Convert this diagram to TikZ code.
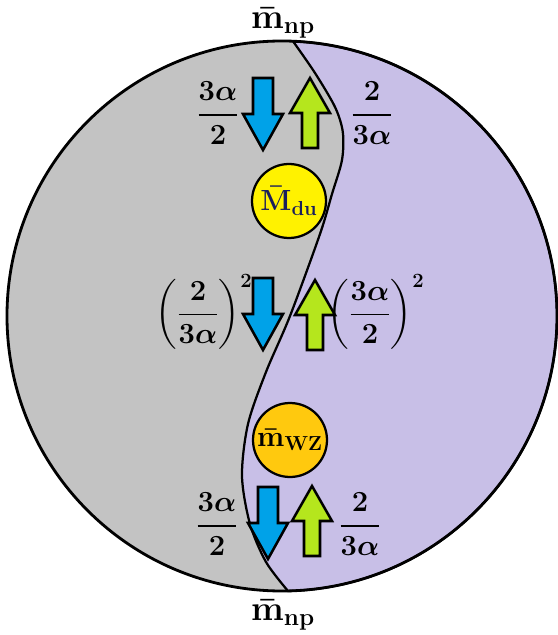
\documentclass[tikz,border=0pt]{standalone}
\usepackage{amsmath}
\definecolor{paintgray}{HTML}{C3C3C3}
\definecolor{lavender}{HTML}{C8BFE7}
\definecolor{spinblue}{HTML}{00A2E8}
\definecolor{spingreen}{HTML}{B5E61D}
\definecolor{duyellow}{HTML}{FFF200}
\definecolor{wzorange}{HTML}{FFC90E}
\definecolor{navytext}{HTML}{1A1F5C}

\begin{document}
\begin{tikzpicture}[line join=miter,
  lbl/.style={font=\fontsize{22}{26}\selectfont\boldmath,inner sep=1pt},
  bubble/.style={circle,draw,line width=1.6pt,minimum size=1.85cm,inner sep=0pt,
    font=\fontsize{21}{24}\selectfont\boldmath},
  outline/.style={line width=1.8pt},
  dnarrow/.pic={\draw[outline,fill=spinblue] (-0.25,0)--(0.25,0)--(0.25,-0.9)--(0.5,-0.9)
    --(0,-1.8)--(-0.5,-0.9)--(-0.25,-0.9)--cycle;},
  uparr/.pic={\draw[outline,fill=spingreen] (0,0)--(0.5,-0.875)--(0.2,-0.875)--(0.2,-1.75)
    --(-0.2,-1.75)--(-0.2,-0.875)--(-0.5,-0.875)--cycle;}]
\useasboundingbox (-7.05,-7.975) rectangle (6.9,7.9);
% two halves of the disc
\fill[paintgray] (0,0) circle[radius=6.875];
\filldraw[fill=lavender,line width=1.6pt] plot[smooth] coordinates {(0.275,6.869) (0.825,6.075)
  (1.325,5.225) (1.52,4.6) (1.5,3.9) (1.25,3.05) (0.95,2.05) (0.2,0) (-0.4,-1.4)
  (-0.85,-2.7) (-1.0,-4.0) (-0.8,-5.2) (-0.4,-6.15) (0.15,-6.875)}
  arc[start angle=-88.75,end angle=87.7,radius=6.875] -- cycle;
\draw[line width=2pt] (0,0) circle[radius=6.875];

\node[lbl,inner sep=0pt,font=\fontsize{24}{28}\selectfont\boldmath] (nptop) at (0.025,7.32) {$\bar{\mathbf{m}}_{\mathbf{np}}$};
\node[lbl,inner sep=0pt,font=\fontsize{24}{28}\selectfont\boldmath] (npbot) at (0.025,-7.475) {$\bar{\mathbf{m}}_{\mathbf{np}}$};

% upper pair
\pic at (-0.475,5.95) {dnarrow};
\pic at (0.7,5.95) {uparr};
\node[lbl] (fl1) at (-1.6,5.075) {$\dfrac{3\alpha}{2}$};
\node[lbl] (fr1) at (2.25,5.075) {$\dfrac{2}{3\alpha}$};
\node[bubble,fill=duyellow,text=navytext] (mdu) at (0.175,2.875) {$\bar{\mathbf{M}}_{\mathbf{du}}$};

% middle pair
\pic at (-0.475,0.95) {dnarrow};
\pic at (0.825,0.9) {uparr};
\node[lbl] (fl2) at (-1.95,0.1) {$\left(\dfrac{2}{3\alpha}\right)^{2}$};
\node[lbl] (fr2) at (2.35,0.1) {$\left(\dfrac{3\alpha}{2}\right)^{2}$};

% lower pair
\node[bubble,fill=wzorange] (mwz) at (0.2,-3.1) {$\bar{\mathbf{m}}_{\mathbf{WZ}}$};
\pic at (-0.35,-4.275) {dnarrow};
\pic at (0.75,-4.25) {uparr};
\node[lbl] (fl3) at (-1.625,-5.2) {$\dfrac{3\alpha}{2}$};
\node[lbl] (fr3) at (1.95,-5.2) {$\dfrac{2}{3\alpha}$};
\end{tikzpicture}
\end{document}
